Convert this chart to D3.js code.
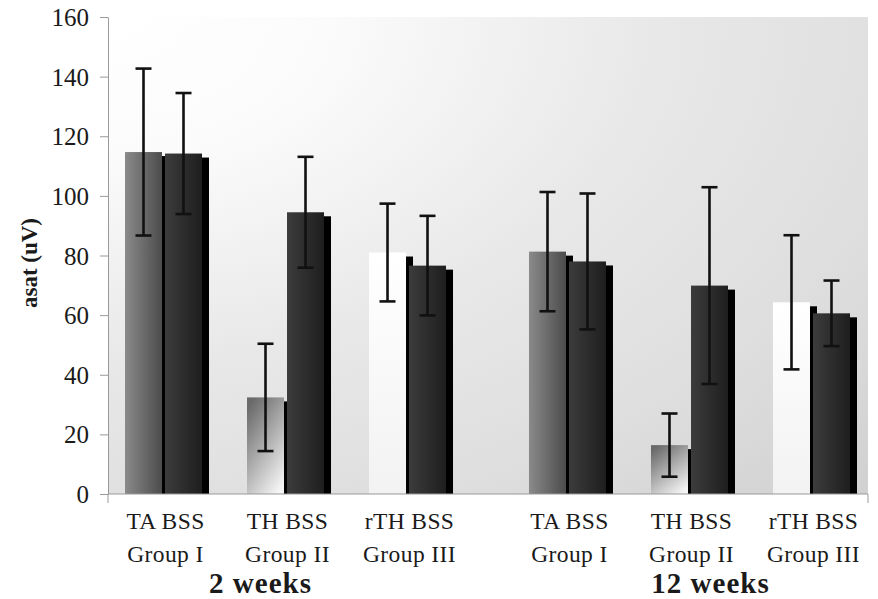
<!DOCTYPE html>
<html><head><meta charset="utf-8">
<script src="https://cdn.jsdelivr.net/npm/d3@7"></script>
<style>body{margin:0;background:#fff} svg{display:block}</style>
</head><body>
<svg id="c" width="878" height="599"></svg>
<script>
const periods = ["2 weeks", "12 weeks"];
const groupLine1 = ["TA BSS", "TH BSS", "rTH BSS"];
const groupLine2 = ["Group I", "Group II", "Group III"];
const seriesKeys = ["A", "B"];
const seriesAMean = [114.7, 32.4, 81.0, 81.3, 16.4, 64.3];
const seriesAErr  = [28.0, 18.0, 16.4, 20.0, 10.6, 22.5];
const seriesBMean = [114.2, 94.5, 76.6, 78.0, 69.9, 60.6];
const seriesBErr  = [20.3, 18.6, 16.7, 22.8, 33.0, 11.0];
const yTicks = [0, 20, 40, 60, 80, 100, 120, 140, 160];
const yLabel = "asat (uV)";

const svg = d3.select("#c");
const L = 108, R = 868, T = 17, B = 494;
const serif = "'Liberation Serif', 'DejaVu Serif', serif";

const defs = svg.append("defs");
function lin(id, x1, y1, x2, y2, stops) {
  const g = defs.append("linearGradient").attr("id", id)
    .attr("x1", x1).attr("y1", y1).attr("x2", x2).attr("y2", y2);
  stops.forEach(s => g.append("stop").attr("offset", s[0]).attr("stop-color", s[1]));
}
const bg = defs.append("radialGradient").attr("id", "bg")
  .attr("cx", 0).attr("cy", 0).attr("r", 1.45).attr("fx", 0).attr("fy", 0);
[[0, "#ffffff"], [0.2, "#fbfbfb"], [0.5, "#e8e8e8"], [0.75, "#dedede"], [1, "#cfcfcf"]]
  .forEach(s => bg.append("stop").attr("offset", s[0]).attr("stop-color", s[1]));
lin("g0", 0, 0, 1, 0, [[0, "#8a8a8a"], [1, "#4c4c4c"]]);
lin("g1", 0.2, 0, 0.8, 1, [[0, "#6a6a6a"], [1, "#f4f4f4"]]);
lin("g2", 0, 0, 0, 1, [[0, "#ffffff"], [1, "#f2f2f2"]]);
lin("gd", 0, 0, 1, 0, [[0, "#3c3c3c"], [1, "#1e1e1e"]]);
defs.append("clipPath").attr("id", "clip").append("rect")
  .attr("x", L).attr("y", 0).attr("width", R - L + 20).attr("height", B);

// plot background
svg.append("rect").attr("x", L).attr("y", T).attr("width", R - L).attr("height", B - T)
  .attr("fill", "url(#bg)");

const y = d3.scaleLinear().domain([0, 160]).range([B, T]);
const xPeriod = d3.scaleBand().domain(periods).range([102.5, 872.5]).paddingInner(0.094);
const xGroup = d3.scaleBand().domain(d3.range(groupLine1.length)).range([0, xPeriod.bandwidth()]);
const xBar = d3.scaleBand().domain(seriesKeys).range([-38.5, 38.5]).paddingInner(0.075);

const rows = [];
seriesAMean.forEach((v, i) => {
  const p = Math.floor(i / 3), g = i % 3;
  const c = xPeriod(periods[p]) + xGroup(g) + xGroup.bandwidth() / 2;
  rows.push({ key: "A", c, g, v, e: seriesAErr[i] });
  rows.push({ key: "B", c, g, v: seriesBMean[i], e: seriesBErr[i] });
});
const bx = d => d.c + xBar(d.key);
const bw = xBar.bandwidth();

const marks = svg.append("g").attr("clip-path", "url(#clip)");
// shadows
marks.selectAll("rect.sh").data(rows).join("rect").attr("class", "sh")
  .attr("x", d => bx(d) + 7).attr("y", d => y(d.v) + 4)
  .attr("width", bw).attr("height", d => Math.max(0, y(0) - y(d.v) - 4))
  .attr("fill", "#000");
// bars
marks.selectAll("rect.bar").data(rows).join("rect").attr("class", "bar")
  .attr("x", bx).attr("y", d => y(d.v))
  .attr("width", bw).attr("height", d => y(0) - y(d.v))
  .attr("fill", d => d.key === "A" ? `url(#g${d.g})` : "url(#gd)");

// error bars
const eb = svg.append("g").attr("stroke", "#111").attr("stroke-width", 2.6).attr("fill", "none");
rows.forEach(d => {
  const cx = bx(d) + bw / 2;
  eb.append("line").attr("x1", cx).attr("x2", cx).attr("y1", y(d.v + d.e)).attr("y2", y(d.v - d.e));
  [d.v + d.e, d.v - d.e].forEach(t =>
    eb.append("line").attr("x1", cx - 8).attr("x2", cx + 8).attr("y1", y(t)).attr("y2", y(t)));
});

// y axis
const ya = svg.append("g").attr("transform", `translate(${L},0)`)
  .call(d3.axisLeft(y).tickValues(yTicks).tickSize(8).tickPadding(11).tickSizeOuter(0));
ya.select(".domain").attr("stroke", "#999");
ya.selectAll(".tick line").attr("stroke", "#999");
ya.selectAll(".tick text").attr("fill", "#1a1a1a").style("font-family", serif)
  .style("font-size", "25px").attr("dy", "0.34em");

// x axis line
svg.append("path").attr("d", `M${L},${B + 9}V${B}H${R}V${B + 9}`)
  .attr("stroke", "#999").attr("fill", "none");

// category labels
rows.filter(d => d.key === "A").forEach(d => {
  const t = svg.append("text").attr("x", d.c + 2).attr("text-anchor", "middle")
    .style("font-family", serif).style("font-size", "23.5px").style("letter-spacing", "0.4px")
    .attr("fill", "#1a1a1a");
  t.append("tspan").attr("x", d.c + 2).attr("y", 529).text(groupLine1[d.g]);
  t.append("tspan").attr("x", d.c + 2).attr("y", 562).text(groupLine2[d.g]);
});
const periodShift = [-25, 21];
periods.forEach((p, i) => {
  svg.append("text").attr("x", xPeriod(p) + xPeriod.bandwidth() / 2 + periodShift[i]).attr("y", 593)
    .attr("text-anchor", "middle").style("font-family", serif).style("font-size", "29px")
    .style("letter-spacing", "1px")
    .style("font-weight", "bold").attr("fill", "#1a1a1a").text(p);
});

// y label
svg.append("text").attr("transform", "translate(37,263) rotate(-90)").attr("text-anchor", "middle")
  .style("font-family", serif).style("font-size", "23px").style("font-weight", "bold")
  .attr("fill", "#1a1a1a").text(yLabel);
</script>
</body></html>
